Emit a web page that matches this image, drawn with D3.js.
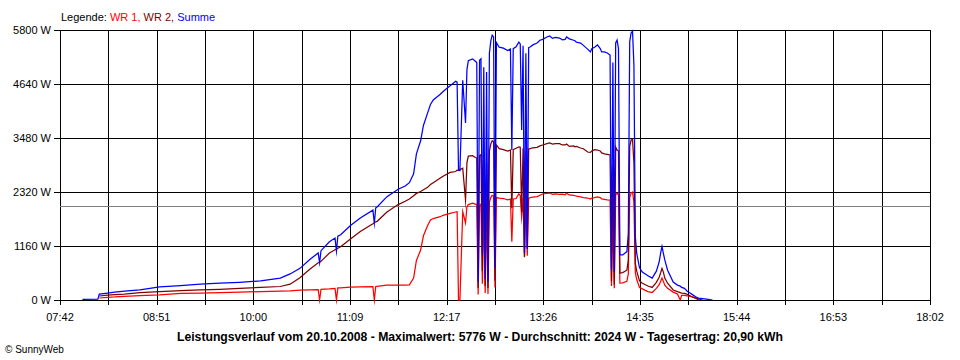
<!DOCTYPE html>
<html><head><meta charset="utf-8">
<script src="https://cdn.jsdelivr.net/npm/d3@7"></script>
<style>body{margin:0;background:#fff}svg{display:block}text{font-family:"Liberation Sans",Arial,sans-serif}</style>
</head><body><svg id="c" width="960" height="360"></svg>
<script>
const times = ["07:58","08:09","08:10","08:16","08:21","08:28","08:39","08:53","09:08","09:22","09:36","09:50","10:05","10:19","10:26","10:33","10:40","10:46","10:47","10:48","10:54","10:58","10:59","11:00","11:02","11:09","11:16","11:25","11:26","11:27","11:28","11:35","11:43","11:48","11:51","11:54","11:56","11:59","12:01","12:04","12:06","12:08","12:13","12:15","12:20","12:24","12:25","12:26","12:27","12:29","12:31","12:32","12:33","12:36","12:38","12:39","12:40","12:41","12:42","12:43","12:44","12:45","12:46","12:47","12:48","12:49","12:50","12:51","12:52","12:53","12:55","12:58","13:01","13:03","13:04","13:05","13:07","13:09","13:10","13:11","13:12","13:13","13:14","13:15","13:16",
  "13:17","13:19","13:22","13:24","13:26","13:29","13:31","13:33","13:35","13:38","13:40","13:42","13:43","13:45","13:48","13:49","13:50","13:53","13:55","13:58","14:00","14:01","14:03","14:05","14:07","14:08","14:10","14:12","14:14",
  "14:15","14:16","14:17","14:18","14:19","14:20","14:21","14:23","14:26","14:27","14:28","14:29","14:30","14:31","14:32","14:33","14:35","14:37","14:41","14:44","14:47","14:49","14:50","14:51","14:52","14:53","14:55","14:59","15:02","15:04","15:05","15:07","15:09","15:11","15:13","15:15","15:17","15:20","15:24","15:27"];
const wr1 = [null,null,43,58,65,80,95,110,140,150,160,170,180,190,195,210,220,225,0,230,240,250,0,260,262,275,280,286,0,290,295,322,322,322,325,470,850,1074,1380,1600,1719,1750,1789,1820,1860,1890,1897,0,0,1897,1654,2000,2050,2080,2060,2050,120,2040,2060,350,2000,150,1950,130,2100,2200,2250,2230,270,2200,2190,2180,2150,2170,1250,2170,2180,2280,2240,1783,2200,920,2100,950,2180,
  2200,2210,2220,2250,2277,2290,2298,2270,2280,2270,2275,2260,2290,2256,2250,2240,2230,2213,2200,2191,2170,2190,2200,2213,2200,2170,2160,2150,2148,
  300,1800,250,2256,2298,2250,365,370,400,560,2200,2298,2320,2100,580,440,270,240,180,160,250,330,400,470,400,320,250,170,130,0,100,100,90,80,60,40,0,null,null,null];
const wr2 = [null,null,86,107,115,125,160,180,200,215,230,250,273,290,340,480,660,800,810,830,1010,1080,1090,1110,1145,1310,1470,1640,1660,1680,1690,1890,2050,2120,2170,2240,2290,2330,2370,2420,2480,2520,2620,2660,2740,2760,2790,2780,2800,2830,2148,2950,3090,3100,3060,3050,260,3100,3120,620,3000,300,2950,260,3200,3350,3420,3400,420,3330,3250,3230,3200,3220,1970,3230,3260,3290,3280,1890,3260,930,3200,1100,3240,
  3250,3270,3280,3310,3330,3360,3373,3350,3360,3360,3330,3330,3350,3300,3310,3290,3300,3265,3250,3179,3170,3200,3230,3222,3200,3160,3140,3130,3115,
  400,2900,330,3287,3222,3200,580,590,640,860,3300,3437,3450,2950,780,620,410,360,300,270,380,490,580,680,600,470,360,215,180,160,150,140,120,90,60,40,20,0,null,null];
const summe = [15,20,125,150,170,190,215,280,310,340,360,380,410,470,560,680,870,1010,800,1060,1250,1330,1050,1370,1400,1600,1760,1930,1650,1980,2000,2220,2380,2450,2520,2710,3140,3420,3750,4020,4200,4296,4420,4480,4600,4700,4680,2790,2780,4720,3802,4950,5140,5180,5130,5100,390,5150,5180,970,5000,450,4900,390,5300,5560,5690,5650,690,5530,5430,5410,5360,5390,3220,5400,5440,5540,5500,3650,5460,1010,5300,1100,5420,
  5435,5480,5520,5580,5600,5650,5671,5620,5640,5628,5590,5600,5650,5610,5580,5570,5540,5520,5470,5390,5330,5400,5430,5478,5400,5330,5330,5306,5263,
  650,5100,600,5521,5585,5400,967,967,1040,1420,5550,5736,5776,5050,1360,1000,690,600,520,470,620,820,1000,1150,1000,860,640,387,320,300,270,250,190,150,110,70,40,30,15,0];
const yTicks = [0,1160,2320,3480,4640,5800];
const xTickLabels = ["07:42","08:51","10:00","11:09","12:17","13:26","14:35","15:44","16:53","18:02"];
const average = 2024;
const legendParts = [["Legende: ","#000"],["WR 1, ","#ff0000"],["WR 2, ","#800000"],["Summe","#0000ff"]];
const title = "Leistungsverlauf vom 20.10.2008 - Maximalwert: 5776 W - Durchschnitt: 2024 W - Tagesertrag: 20,90 kWh";
const copyright = "\u00a9 SunnyWeb";

const toMin = s => { const [h,m] = s.split(":").map(Number); return h*60+m; };
const svg = d3.select("#c");
const x = d3.scaleLinear().domain([toMin("07:42"), toMin("18:02")]).range([60, 930]);
const y = d3.scaleLinear().domain([0, 5800]).range([300, 30]);

// grid
const nTicks = 18;
const xTickVals = d3.range(nTicks+1).map(i => x.domain()[0] + i*(x.domain()[1]-x.domain()[0])/nTicks);
const g = svg.append("g").attr("shape-rendering","crispEdges");
g.selectAll("line.v").data(xTickVals).join("line")
  .attr("x1", d => Math.round(x(d))+0.5).attr("x2", d => Math.round(x(d))+0.5)
  .attr("y1", 30).attr("y2", 305).attr("stroke","#000");
g.selectAll("line.h").data(yTicks).join("line")
  .attr("x1", 54).attr("x2", 930)
  .attr("y1", d => Math.round(y(d))+0.5).attr("y2", d => Math.round(y(d))+0.5).attr("stroke","#000");
g.append("line").attr("x1",60).attr("x2",930)
  .attr("y1",Math.round(y(average))+0.5).attr("y2",Math.round(y(average))+0.5).attr("stroke","#808080");

// labels
svg.selectAll("text.yl").data(yTicks).join("text")
  .attr("x", 51).attr("y", d => y(d)+4).attr("text-anchor","end")
  .attr("font-size","11px").text(d => d + " W");
svg.selectAll("text.xl").data(xTickLabels).join("text")
  .attr("x", (d,i) => x(xTickVals[i*2])).attr("y", 321).attr("text-anchor","middle")
  .attr("font-size","11px").text(d => d);

// series
const rows = times.map((t,i) => ({t: toMin(t), a: wr1[i], b: wr2[i], s: summe[i]}));
const mk = k => d3.line().defined(d => d[k] !== null && d[k] !== undefined).x(d => x(d.t)).y(d => y(d[k])).curve(d3.curveLinear);
[["a","#ff0000"],["b","#800000"],["s","#0000ff"]].forEach(([k,c]) => {
  svg.append("path").datum(rows).attr("d", mk(k)).attr("fill","none")
    .attr("stroke", c).attr("stroke-width", 1.25).attr("stroke-linejoin","miter").attr("stroke-miterlimit", 20);
});

// legend
const lt = svg.append("text").attr("x", 61).attr("y", 21).attr("font-size","11px");
legendParts.forEach(([s,c]) => lt.append("tspan").attr("fill", c).text(s));

svg.append("text").attr("x", 480).attr("y", 341).attr("text-anchor","middle")
  .attr("font-size","12.2px").attr("font-weight","bold").text(title);
svg.append("text").attr("x", 5).attr("y", 353).attr("font-size","10px").text(copyright);
</script></body></html>
